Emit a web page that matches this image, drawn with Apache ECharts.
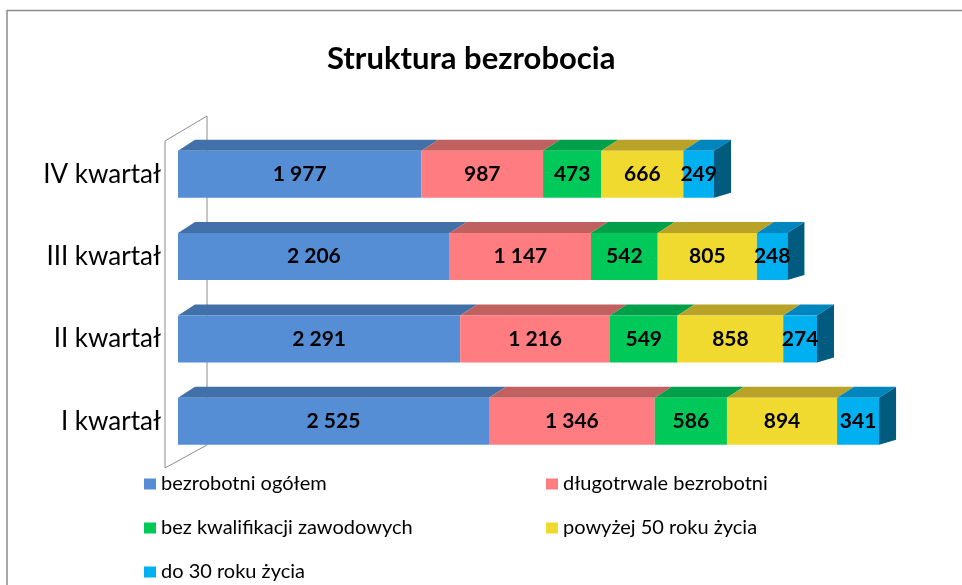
<!DOCTYPE html>
<html>
<head>
<meta charset="utf-8">
<title>Struktura bezrobocia</title>
<script src="https://cdn.jsdelivr.net/npm/echarts@6/dist/echarts.min.js"></script>
<style>
  html, body { margin: 0; padding: 0; background: #fff; }
  #chart { width: 962px; height: 585px; }
</style>
</head>
<body>
<div id="chart"></div>
<script>
// kwartały (od dołu do góry)
const categories = ['I kwartał', 'II kwartał', 'III kwartał', 'IV kwartał']
const seriesNames = [
  'bezrobotni ogółem',
  'długotrwale bezrobotni',
  'bez kwalifikacji zawodowych',
  'powyżej 50 roku życia',
  'do 30 roku życia'
]
const ogolem = [2525, 2291, 2206, 1977]
const dlugotrwale = [1346, 1216, 1147, 987]
const bezKwalifikacji = [586, 549, 542, 473]
const powyzej50 = [894, 858, 805, 666]
const do30 = [341, 274, 248, 249]

const values = [ogolem, dlugotrwale, bezKwalifikacji, powyzej50, do30]
// kolory: przód, góra
const frontColors = ['#558ED5', '#FF7C80', '#00C95A', '#F0DA30', '#00B0F0']
const topColors = ['#4270A8', '#C0605F', '#00A04A', '#B8A228', '#0086BE']
const sideColor = '#005B7E'

const DX = 17      // głębokość słupka 3D
const DY = -11
const DY_BOTTOM = -5

function fmt(v) {
  return String(v).replace(/\B(?=(\d{3})+(?!\d))/g, ' ')
}

// dane dla serii custom: [start, koniec, indeks kategorii, wartość]
const stacked = values.map(() => [])
for (let c = 0; c < categories.length; c++) {
  let acc = 0
  values.forEach((arr, s) => {
    stacked[s].push([acc, acc + arr[c], c, arr[c]])
    acc += arr[c]
  })
}

function makeRender(sIdx) {
  const last = sIdx === values.length - 1
  return function (params, api) {
    const a = api.coord([api.value(0), api.value(2)])
    const b = api.coord([api.value(1), api.value(2)])
    const h = api.size([0, 1])[1] * 0.57
    const y0 = a[1] - h / 2
    const y1 = a[1] + h / 2
    const children = [
      {
        type: 'polygon',
        shape: { points: [[a[0], y0], [b[0], y0], [b[0] + DX, y0 + DY], [a[0] + DX, y0 + DY]] },
        style: { fill: topColors[sIdx] }
      },
      {
        type: 'rect',
        shape: { x: a[0], y: y0, width: b[0] - a[0], height: h },
        style: { fill: frontColors[sIdx] }
      }
    ]
    if (last) {
      children.push({
        type: 'polygon',
        shape: { points: [[b[0], y0], [b[0] + DX, y0 + DY], [b[0] + DX, y1 + DY_BOTTOM], [b[0], y1]] },
        style: { fill: sideColor }
      })
    }
    children.push({
      type: 'text',
      style: {
        x: (a[0] + b[0]) / 2,
        y: a[1],
        text: fmt(api.value(3)),
        align: 'center',
        verticalAlign: 'middle',
        fill: '#000',
        font: 'bold 21px Lato'
      }
    })
    return { type: 'group', children: children }
  }
}

const chart = echarts.init(document.getElementById('chart'))

const legendPos = [
  [144, 474], [546, 474],
  [144, 518], [546, 518],
  [144, 562]
]

const option = {
  animation: false,
  title: {
    text: 'Struktura bezrobocia',
    left: 327,
    top: 43,
    padding: 0,
    textStyle: { fontFamily: 'Lato', fontSize: 31, fontWeight: 'bold', color: '#000' }
  },
  legend: seriesNames.map((name, i) => ({
    data: [name],
    left: legendPos[i][0],
    top: legendPos[i][1],
    padding: 0,
    itemWidth: 12,
    itemHeight: 11,
    icon: 'rect',
    selectedMode: false,
    textStyle: { fontFamily: 'Lato', fontSize: 20, color: '#000', lineHeight: 12 }
  })),
  grid: { left: 178, right: 45, top: 133, bottom: 122.5 },
  xAxis: {
    type: 'value',
    min: 0,
    max: 6000,
    show: false
  },
  yAxis: {
    type: 'category',
    data: categories,
    axisLine: { show: false },
    axisTick: { show: false },
    axisLabel: {
      margin: 17,
      padding: [20, 0, 0, 0],
      fontFamily: 'Lato',
      fontSize: 26,
      color: '#000'
    }
  },
  graphic: [
    {
      type: 'rect',
      shape: { x: 7, y: 10.5, width: 1000, height: 1000 },
      style: { fill: 'none', stroke: '#8c8c8c', lineWidth: 1.5 },
      z: -10
    },
    {
      // ściana boczna wykresu 3D
      type: 'polyline',
      shape: { points: [[165, 468], [165, 141], [207, 116], [207, 445], [165, 468]] },
      style: { fill: 'none', stroke: '#8c8c8c', lineWidth: 1 },
      z: -10
    }
  ],
  series: seriesNames.map((name, i) => ({
    name: name,
    type: 'custom',
    renderItem: makeRender(i),
    itemStyle: { color: frontColors[i] },
    encode: { x: [0, 1], y: 2 },
    data: stacked[i]
  }))
}

chart.setOption(option)
</script>
</body>
</html>
